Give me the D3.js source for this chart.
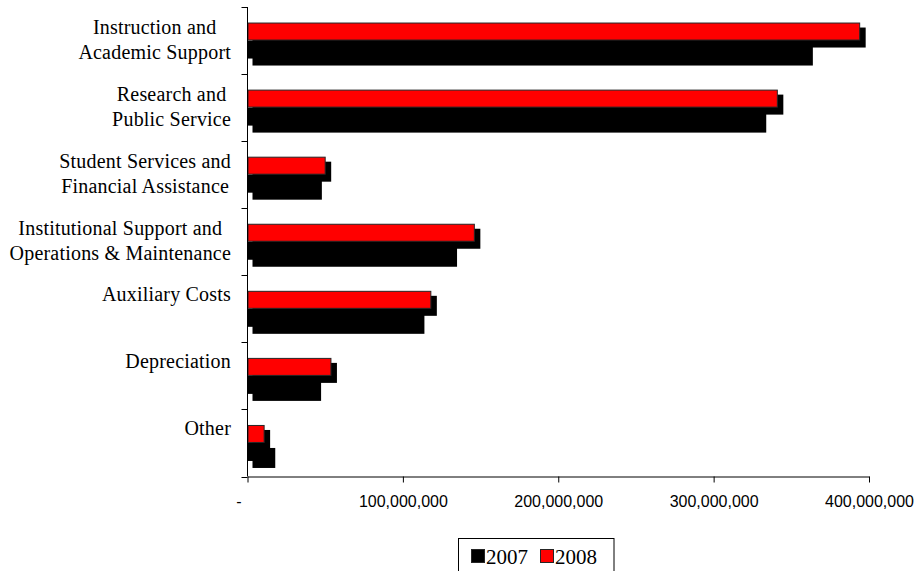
<!DOCTYPE html>
<html>
<head>
<meta charset="utf-8">
<script src="https://cdn.jsdelivr.net/npm/d3@7"></script>
<style>
  html, body { margin: 0; padding: 0; background: #fff; }
  svg { display: block; }
</style>
</head>
<body>
<svg id="chart" width="916" height="571"></svg>
<script>
// ---- data ----
const categories = [
  ["Instruction and", "Academic Support"],
  ["Research and", "Public Service"],
  ["Student Services and", "Financial Assistance"],
  ["Institutional Support and", "Operations & Maintenance"],
  ["Auxiliary Costs"],
  ["Depreciation"],
  ["Other"]
];
const seriesNames = ["2007", "2008"];
const values2007 = [360000000, 330000000, 44000000, 131000000, 110000000, 43500000, 14000000];
const values2008 = [394000000, 341000000, 50000000, 146000000, 118000000, 53700000, 10700000];
const xTicks = [0, 100000000, 200000000, 300000000, 400000000];
const seriesColors = ["#000000", "#FF0000"];

(function () {
// ---- layout ----
const svg = d3.select("#chart");
const pLeft = 247.5, pRight = 869, pTop = 7, pBottom = 476.5;
const keys = categories.map(c => c.join(" "));

const x = d3.scaleLinear().domain([0, 400000000]).range([pLeft, pRight]);
const y = d3.scaleBand().domain(keys).range([pTop, pBottom]).paddingInner(0).paddingOuter(0);
const ys = d3.scaleBand().domain(["2008", "2007"]).range([-18, 18]);
const color = d3.scaleOrdinal().domain(seriesNames).range(seriesColors);

const rows = [];
keys.forEach((k, i) => {
  rows.push({ key: k, s: "2007", v: values2007[i] });
  rows.push({ key: k, s: "2008", v: values2008[i] });
});

const cy = k => y(k) + y.bandwidth() / 2;
const sdx = 5, sdy = 5;

// shadows
svg.append("g").selectAll("rect").data(rows).join("rect")
  .attr("x", x(0) + sdx)
  .attr("y", d => cy(d.key) + ys(d.s) + sdy)
  .attr("width", d => x(d.v) - x(0) + 1)
  .attr("height", ys.bandwidth() + 2)
  .attr("fill", "#000");

// bars (2007 first, 2008 on top)
svg.append("g").selectAll("rect").data(rows.filter(d => d.s === "2007")).join("rect")
  .attr("x", x(0))
  .attr("y", d => cy(d.key) + ys(d.s))
  .attr("width", d => x(d.v) - x(0))
  .attr("height", ys.bandwidth())
  .attr("fill", d => color(d.s));

svg.append("g").selectAll("rect").data(rows.filter(d => d.s === "2008")).join("rect")
  .attr("x", x(0) + 0.5)
  .attr("y", d => cy(d.key) + ys(d.s) + 0.5)
  .attr("width", d => x(d.v) - x(0) - 0.5)
  .attr("height", ys.bandwidth() - 1)
  .attr("fill", d => color(d.s))
  .attr("stroke", "#262626")
  .attr("stroke-width", 1);

// x axis
const xAxis = d3.axisBottom(x).tickValues(xTicks).tickSize(6).tickSizeOuter(0)
  .tickFormat(d => d === 0 ? "-" : d3.format(",")(d));
const gx = svg.append("g").attr("transform", `translate(0,${pBottom})`).call(xAxis);
gx.select(".domain").attr("stroke", "#000");
gx.selectAll(".tick line").attr("stroke", "#000");
gx.selectAll(".tick text")
  .attr("font-family", "'Liberation Sans', Arial, sans-serif")
  .attr("font-size", 16)
  .attr("fill", "#000")
  .attr("y", 19)
  .attr("dy", "0.71em")
  .attr("dx", d => d === 0 ? -9 : 0);

// y axis line and boundary ticks
svg.append("line")
  .attr("x1", pLeft).attr("x2", pLeft)
  .attr("y1", pTop).attr("y2", pBottom)
  .attr("stroke", "#000");
const bounds = keys.map(k => y(k)).concat([y.range()[1]]);
svg.append("g").selectAll("line").data(bounds).join("line")
  .attr("x1", pLeft - 6).attr("x2", pLeft)
  .attr("y1", d => Math.round(d) + 0.5).attr("y2", d => Math.round(d) + 0.5)
  .attr("stroke", "#000");

// category labels: block right-aligned, lines centered in block
const labelRight = 231;
const lg = svg.append("g")
  .attr("font-family", "'Liberation Serif', 'Times New Roman', serif")
  .attr("font-size", 20)
  .attr("letter-spacing", "0.2px")
  .attr("fill", "#000");
categories.forEach((lines, i) => {
  const c = cy(keys[i]);
  const g = lg.append("g");
  const texts = lines.map((ln, j) => g.append("text").text(ln)
    .attr("y", lines.length === 1 ? c - 8 : (j === 0 ? c - 7 : c + 18)));
  const widths = texts.map(t => t.node().getComputedTextLength());
  const maxW = d3.max(widths);
  const centerX = labelRight - maxW / 2;
  texts.forEach(t => t.attr("x", centerX).attr("text-anchor", "middle"));
});

// legend
const leg = svg.append("g");
leg.append("rect")
  .attr("x", 458.5).attr("y", 538.5)
  .attr("width", 155.5).attr("height", 40)
  .attr("fill", "#fff").attr("stroke", "#000");
const legX = d3.scaleOrdinal().domain(seriesNames).range([471, 540]);
seriesNames.forEach(s => {
  leg.append("rect")
    .attr("x", legX(s) + 0.5).attr("y", 549.5)
    .attr("width", 13).attr("height", 13)
    .attr("fill", color(s)).attr("stroke", "#262626");
  leg.append("text")
    .attr("x", legX(s) + 15).attr("y", 564)
    .attr("font-family", "'Liberation Serif', 'Times New Roman', serif")
    .attr("font-size", 21)
    .attr("fill", "#000")
    .text(s);
});
})();
</script>
</body>
</html>
